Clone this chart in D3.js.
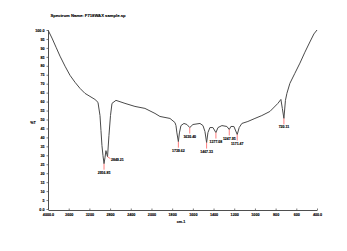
<!DOCTYPE html>
<html>
<head>
<meta charset="utf-8">
<script src="https://cdn.jsdelivr.net/npm/d3@7"></script>
<style>
  body { margin: 0; background: #fff; }
  svg { display: block; }
  text { stroke: #000; stroke-width: 0.12px; }
</style>
</head>
<body>
<div id="chart"></div>
<script>
// spectrum trace (cm-1, %T)
const wavenumbers = [4000, 3923, 3845, 3768, 3671, 3575, 3478, 3382, 3285, 3188, 3092, 3034,
    2995, 2976, 2957, 2937, 2917, 2899, 2880, 2862, 2849, 2822, 2792, 2763, 2686, 2512, 2319,
    2126, 1966, 1918, 1821, 1773, 1763, 1754, 1740, 1730, 1715, 1686, 1657, 1630, 1599, 1531,
    1502, 1483, 1467, 1454, 1435, 1406, 1377, 1357, 1319, 1271, 1248, 1232, 1203, 1171, 1152,
    1126, 1068, 1000, 933, 855, 778, 749, 735, 720, 705, 691, 662, 614, 565, 517, 469, 430, 400];
const transmittance = [100, 95.5, 90.4, 85.4, 79.8, 74.7, 70.8, 67.4, 64.6, 62.9, 61.2, 59.6,
    52.2, 43.8, 35.4, 29.8, 25.3, 28.6, 32.6, 30.5, 29.2, 41, 52.2, 59, 60.7, 59, 57.3,
    56.2, 53.4, 51.7, 50.6, 48.3, 46.6, 42.5, 37.6, 42.5, 46.6, 47.8, 47.2, 45.5, 47.2, 47.8,
    46.6, 43.3, 37.1, 42.7, 45.5, 45.5, 42.7, 45.5, 46.6, 46.1, 44.4, 46.1, 46.1, 41.6, 45.5,
    47.8, 48.9, 50.6, 52.2, 54.5, 59, 61.2, 56.2, 50.6, 60.7, 64.6, 70.2, 75.8, 81.5, 87.6, 93.3, 97.8, 100];

const peakPositions = [2917, 2849, 1740, 1630, 1467, 1377, 1248, 1171, 720];
const peakLabels = ['2916.85', '2849.21', '1739.62', '1630.40', '1467.33', '1377.08', '1247.95', '1171.47', '720.11'];

const xTickValues = [4000, 3600, 3200, 2800, 2400, 2000, 1800, 1600, 1400, 1200, 1000, 800, 600, 400];
const xTickLabels = ['4000.0', '3600', '3200', '2800', '2400', '2000', '1800', '1600', '1400', '1200', '1000', '800', '600', '400.0'];
const yTickValues = d3.range(0, 101, 5);
const yTickLabels = yTickValues.map(v => v === 100 ? '100.0' : v === 0 ? '0.0' : String(v));

const title = 'Spectrum Name: F718WAX sample.sp';

const width = 347;
const height = 251;
const margin = { top: 30, right: 30, bottom: 42, left: 48 };
const font = 'Liberation Sans, Arial, sans-serif';

const data = wavenumbers.map((w, i) => ({ w, t: transmittance[i] }));

const plotW = width - margin.left - margin.right;
const step = plotW / 13;

// scale changes at 2000 cm-1, like the instrument software
const x = d3.scaleLinear()
    .domain([4000, 2000, 400])
    .range([margin.left, margin.left + 5 * step, margin.left + 13 * step]);

const y = d3.scaleLinear()
    .domain([0, 100])
    .range([height - margin.bottom, margin.top]);

const svg = d3.select('#chart')
    .append('svg')
    .attr('width', width)
    .attr('height', height);

// title
svg.append('text')
    .attr('x', 88)
    .attr('y', 17)
    .attr('text-anchor', 'middle')
    .attr('font-family', font)
    .attr('font-weight', 'bold')
    .attr('font-size', '4.2px')
    .text(title);

// x axis
const xAxis = svg.append('g')
    .attr('transform', `translate(0, ${height - margin.bottom + 1})`)
    .call(d3.axisBottom(x)
        .tickValues(xTickValues)
        .tickFormat((d, i) => xTickLabels[i])
        .tickSizeInner(-1.5)
        .tickSizeOuter(0)
        .tickPadding(3));

// y axis
const yAxis = svg.append('g')
    .attr('transform', `translate(${margin.left}, 0)`)
    .call(d3.axisLeft(y)
        .tickValues(yTickValues)
        .tickFormat((d, i) => yTickLabels[i])
        .tickSizeInner(1.5)
        .tickSizeOuter(0)
        .tickPadding(2));

[xAxis, yAxis].forEach(g => {
    g.select('.domain').attr('stroke', '#222').attr('stroke-width', 0.8);
    g.selectAll('.tick line').attr('stroke', '#222').attr('stroke-width', 0.6);
    g.selectAll('.tick text')
        .attr('font-family', font)
        .attr('font-weight', 'bold')
        .attr('font-size', '3.7px')
        .attr('fill', '#000');
});

// axis labels
svg.append('text')
    .attr('x', 181)
    .attr('y', 223)
    .attr('text-anchor', 'middle')
    .attr('font-family', font)
    .attr('font-weight', 'bold')
    .attr('font-size', '3.7px')
    .text('cm-1');

svg.append('text')
    .attr('x', 33)
    .attr('y', 124)
    .attr('text-anchor', 'middle')
    .attr('font-family', font)
    .attr('font-weight', 'bold')
    .attr('font-size', '3.7px')
    .text('%T');

// spectrum line
svg.append('path')
    .datum(data)
    .attr('fill', 'none')
    .attr('stroke', '#4a4a4a')
    .attr('stroke-width', 1)
    .attr('stroke-linejoin', 'round')
    .attr('d', d3.line().x(d => x(d.w)).y(d => y(d.t)));

// peak markers
const peaks = peakPositions.map((p, i) => {
    const pt = d3.least(data, d => Math.abs(d.w - p));
    return { w: p, t: pt.t, label: peakLabels[i] };
});

const markers = svg.append('g').selectAll('g')
    .data(peaks)
    .join('g');

markers.append('line')
    .attr('x1', d => x(d.w))
    .attr('x2', (d, i) => x(d.w) + (i === 1 ? 3 : 0))
    .attr('y1', d => y(d.t))
    .attr('y2', (d, i) => y(d.t) + (i === 1 ? 2 : 6))
    .attr('stroke', '#ff5a5a')
    .attr('stroke-width', 0.8);

markers.append('text')
    .attr('x', (d, i) => x(d.w) + (i === 1 ? 3.5 : 0))
    .attr('y', (d, i) => y(d.t) + (i === 1 ? 4.5 : 10))
    .attr('text-anchor', (d, i) => i === 1 ? 'start' : 'middle')
    .attr('font-family', font)
    .attr('font-weight', 'bold')
    .attr('font-size', '3.5px')
    .text(d => d.label);
</script>
</body>
</html>
